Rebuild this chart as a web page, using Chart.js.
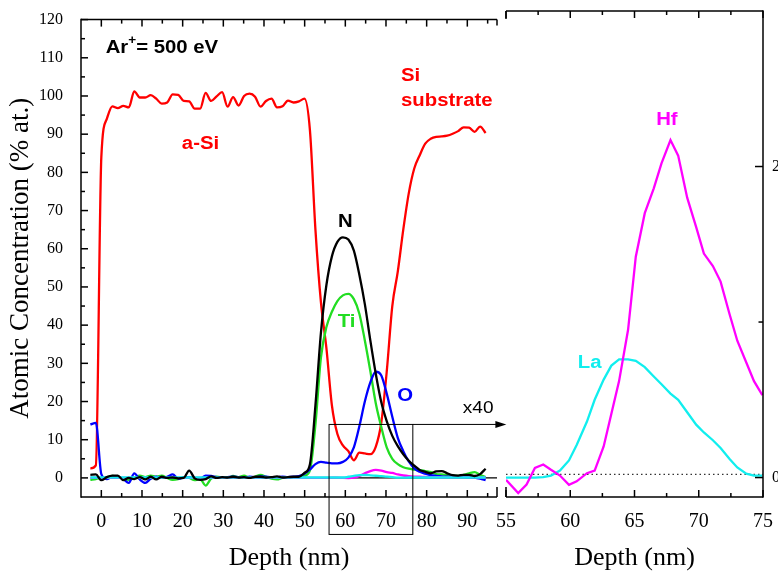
<!DOCTYPE html>
<html>
<head>
<meta charset="utf-8">
<script src="https://cdn.jsdelivr.net/npm/chart.js@4.4.1/dist/chart.umd.min.js"></script>
<style>
html,body{margin:0;padding:0;background:#fff;}
#wrap{position:relative;width:778px;height:576px;overflow:hidden;background:#fff;}
canvas{position:absolute;left:0;top:0;}
</style>
</head>
<body>
<div id="wrap">
<canvas id="c1" width="778" height="576"></canvas>
<canvas id="c2" width="778" height="576"></canvas>
</div>
<script>
// ---------- data ----------
const depth = [-2.7,-1.35,0,1.35,2.7,4.05,5.4,6.75,8.1,9.45,10.8,12.15,13.5,14.85,16.2,17.55,18.9,20.25,21.6,22.95,24.3,25.65,27.0,28.35,29.7,31.05,32.4,33.75,35.1,36.45,37.8,39.15,40.5,41.85,43.2,44.55,45.9,47.25,48.6,49.95,51.3,52.65,54.0,55.35,56.7,58.05,59.4,60.75,62.1,63.45,64.8,66.15,67.5,68.85,70.2,71.55,72.9,74.25,75.6,76.95,78.3,79.65,81.0,82.35,83.7,85.05,86.4,87.75,89.1,90.45,91.8,93.15,94.5];

const siConc = [2.5,3.3,84.0,94.0,97.3,96.8,97.4,97.0,101.2,99.6,
  99.6,100.2,99.3,98.0,98.3,100.4,100.3,98.7,98.6,96.7,
  96.7,100.8,98.7,99.9,101.0,97.2,99.7,97.5,100.0,100.6,
  99.8,97.2,98.7,99.3,97.0,97.3,98.8,98.3,98.6,99.3,
  91.0,65.0,46.0,34.0,19.0,11.5,8.5,7.0,4.6,6.6,
  6.4,6.2,8.2,14.5,28.0,45.0,54.0,65.0,74.5,81.0,
  84.5,87.5,88.8,89.3,89.4,89.6,90.1,90.8,91.8,91.7,
  90.6,92.0,90.3];

const nConc = [0.8,0.9,-0.6,0.2,0.6,0.6,-0.6,0.0,-0.3,0.2,
  -0.4,0.3,-0.4,0.3,0.0,0.1,-0.1,0.0,1.9,-0.1,
  -0.5,-0.3,0.4,0.0,0.2,0.1,0.3,0.1,0.2,0.0,
  0.3,0.3,0.1,0.2,0.4,0.1,0.2,0.3,0.3,1.3,
  3.6,19.0,38.0,50.5,58.0,61.8,63.0,62.4,59.5,53.2,
  45.5,36.0,27.2,19.8,14.8,11.0,8.3,6.2,4.5,3.2,
  2.1,1.6,1.2,1.7,1.8,1.2,0.7,0.6,0.8,0.8,
  0.5,1.0,2.4];

const tiConc = [-0.5,-0.3,0.0,0.2,0.5,0.3,-0.2,-0.5,0.0,0.6,
  0.2,0.6,0.3,0.6,0.0,-0.5,-0.3,0.2,0.0,-0.6,
  -0.3,-2.0,-0.2,0.3,0.1,0.0,0.5,0.2,0.6,0.0,
  0.3,0.8,0.3,-0.2,-0.4,0.0,0.1,0.0,0.1,0.6,
  2.0,14.0,31.5,39.5,43.5,46.3,47.8,48.2,46.8,43.0,
  36.0,28.0,19.5,13.3,7.9,5.0,3.6,2.8,2.4,2.2,
  2.0,1.8,1.5,1.0,0.9,0.8,0.6,0.5,0.8,1.2,
  1.5,0.8,0.2];

const oConc = [14.0,14.4,1.0,-0.3,0.3,0.2,-0.3,-1.3,1.2,-0.4,
  -1.3,-0.2,0.3,0.0,0.3,0.9,-0.2,0.1,0.2,0.0,
  -0.2,0.6,0.5,0.2,0.1,0.2,0.3,0.2,0.1,0.3,
  0.2,0.4,0.3,0.2,0.2,0.3,0.2,0.3,0.5,1.1,
  2.2,3.6,4.2,4.0,3.8,3.8,4.2,5.3,8.0,13.5,
  20.0,25.0,27.8,26.8,22.0,16.0,10.5,7.0,4.3,2.5,
  1.6,1.1,0.7,0.5,0.4,0.3,0.3,0.3,0.3,0.2,
  0.1,-0.2,-0.6];

const hfConc = [0,0,0,0,0,0,0,0,0,0,
  0,0,0,0,0,0,0,0,0,0,
  0,0,0,0,0,0,0,0,0,0,
  0,0,0,0,0,0,0,0,0,0,
  0,0,0,0,0.05,0.06,0.0,-0.03,0.05,0.5,
  1.2,1.8,2.1,1.9,1.5,1.3,0.9,0.63,0.45,0.35,
  0.3,0.25,0.2,0.2,0.15,0.15,0.15,0.15,0.15,0.15,
  0.15,0.15,0.15];

const laConc = [0.1,0.1,0.1,0.1,0.1,0.1,0.1,0.1,0.1,0.1,
  0.1,0.1,0.1,0.1,0.1,0.1,0.1,0.1,0.1,0.1,
  0.1,0.1,0.1,0.1,0.1,0.1,0.1,0.1,0.1,0.1,
  0.1,0.1,0.1,0.1,0.1,0.1,0.1,0.1,0.1,0.1,
  0.1,0.1,0.1,0.1,0.1,0.1,0.1,0.3,0.55,0.74,
  0.76,0.68,0.56,0.45,0.31,0.2,0.08,0.05,0.1,0.1,
  0.1,0.1,0.1,0.1,0.1,0.1,0.1,0.1,0.1,0.1,
  0.1,0.1,0.1];

// magnified (x40) region 55-75 nm
const zoomDepth = [55.0,55.95,56.6,57.25,57.9,58.5,59.2,59.9,60.5,61.3,61.9,62.6,63.2,63.8,64.5,65.1,65.8,66.5,67.1,67.8,68.4,69.1,69.8,70.4,71.1,71.7,72.4,73.0,73.7,74.3,74.95];
const hfZoom = [-0.015,-0.10,-0.045,0.062,0.084,0.05,0.013,-0.047,-0.024,0.028,0.045,0.20,0.41,0.62,0.95,1.42,1.70,1.86,2.02,2.17,2.07,1.80,1.61,1.44,1.36,1.26,1.05,0.88,0.74,0.62,0.53];
const laZoom = [0.0,0.0,0.0,0.0,0.003,0.012,0.045,0.11,0.21,0.36,0.50,0.63,0.72,0.76,0.76,0.75,0.71,0.65,0.60,0.54,0.50,0.42,0.34,0.29,0.24,0.19,0.12,0.065,0.025,0.013,0.013];

// tick values
const leftXMajor = [0,10,20,30,40,50,60,70,80,90];
const leftXMinor = [5,15,25,35,45,55,65,75,85,95];
const leftYMajor = [0,10,20,30,40,50,60,70,80,90,100,110,120];
const leftYMinor = [5,15,25,35,45,55,65,75,85,95,105,115];
const rightXMajor = [55,60,65,70,75];
const rightXMinor = [57.5,62.5,67.5,72.5];
const rightYMajor = [0,2];
const rightYMinor = [1];

// ---------- helpers ----------
const pts = (xs, ys) => xs.map((x, i) => ({x: x, y: ys[i]}));
const SANS = '"Liberation Sans", Arial, sans-serif';
const SERIF = '"Liberation Serif", "Times New Roman", serif';

function txt(ctx, s, x, y, color, font, align, sx) {
  ctx.save();
  ctx.font = font;
  ctx.fillStyle = color;
  ctx.textBaseline = 'alphabetic';
  ctx.textAlign = 'left';
  const w = ctx.measureText(s).width * sx;
  const x0 = align === 'center' ? x - w / 2 : x;
  ctx.translate(x0, y);
  ctx.scale(sx, 1);
  ctx.fillText(s, 0, 0);
  ctx.restore();
  return w;
}
function line(ctx, x1, y1, x2, y2) {
  ctx.beginPath(); ctx.moveTo(x1, y1); ctx.lineTo(x2, y2); ctx.stroke();
}
function xTicks(ctx, sc, a, vals, len) {
  vals.forEach(v => {
    const p = sc.getPixelForValue(v);
    line(ctx, p, a.bottom, p, a.bottom - len);
    line(ctx, p, a.top, p, a.top + len);
  });
}

const leftDecor = {
  id: 'leftDecor',
  beforeDatasetsDraw(chart) {
    const {ctx, chartArea: a, scales: {x, y}} = chart;
    ctx.save();
    ctx.strokeStyle = '#000'; ctx.lineWidth = 1.2;
    line(ctx, x.getPixelForValue(56.0), y.getPixelForValue(0), a.right, y.getPixelForValue(0));
    ctx.restore();
  },
  afterDraw(chart) {
    const {ctx, chartArea: a, scales: {x, y}} = chart;
    ctx.save();
    ctx.strokeStyle = '#000'; ctx.lineWidth = 1.5; ctx.lineCap = 'butt';
    // frame (broken on right side)
    line(ctx, a.left, a.top - 0.75, a.left, a.bottom + 0.75);
    line(ctx, a.left, a.top, a.right, a.top);
    line(ctx, a.left, a.bottom, a.right, a.bottom);
    line(ctx, a.right, a.top, a.right, a.top + 6);
    line(ctx, a.right, a.bottom, a.right, a.bottom - 10);
    // ticks
    xTicks(ctx, x, a, leftXMajor, 7);
    xTicks(ctx, x, a, leftXMinor, 4);
    leftYMajor.forEach(v => { const p = y.getPixelForValue(v); line(ctx, a.left, p, a.left + 7, p); });
    leftYMinor.forEach(v => { const p = y.getPixelForValue(v); line(ctx, a.left, p, a.left + 4, p); });
    // zoom box and arrow
    ctx.lineWidth = 1;
    const bx1 = x.getPixelForValue(56.0), bx2 = x.getPixelForValue(76.6);
    const by1 = y.getPixelForValue(14.0), by2 = y.getPixelForValue(-14.8);
    ctx.strokeRect(bx1, by1, bx2 - bx1, by2 - by1);
    const tip = x.getPixelForValue(99.6);
    line(ctx, bx2, by1, tip - 8, by1);
    ctx.fillStyle = '#000';
    ctx.beginPath(); ctx.moveTo(tip, by1); ctx.lineTo(tip - 11, by1 - 3.5); ctx.lineTo(tip - 11, by1 + 3.5); ctx.closePath(); ctx.fill();
    // labels
    const B = 'bold 18px ' + SANS, SX = 1.13;
    let px = x.getPixelForValue(1.06), py = y.getPixelForValue(111.15);
    let w = txt(ctx, 'Ar', px, py, '#000', B, 'left', SX);
    let w2 = txt(ctx, '+', px + w, py - 9, '#000', 'bold 12px ' + SANS, 'left', SX);
    txt(ctx, '= 500 eV', px + w + w2, py, '#000', B, 'left', SX);
    txt(ctx, 'a-Si', x.getPixelForValue(19.8), y.getPixelForValue(86.0), '#ff0000', B, 'left', SX);
    txt(ctx, 'Si', x.getPixelForValue(73.7), y.getPixelForValue(104.0), '#ff0000', B, 'left', SX);
    txt(ctx, 'substrate', x.getPixelForValue(73.7), y.getPixelForValue(97.3), '#ff0000', B, 'left', SX);
    txt(ctx, 'N', x.getPixelForValue(60.0), y.getPixelForValue(65.8), '#000', B, 'center', SX);
    txt(ctx, 'Ti', x.getPixelForValue(60.3), y.getPixelForValue(39.6), '#22dd22', B, 'center', SX);
    txt(ctx, 'O', x.getPixelForValue(74.7), y.getPixelForValue(20.1), '#0000ff', B, 'center', SX);
    txt(ctx, 'x40', x.getPixelForValue(88.9), y.getPixelForValue(16.96), '#000', '17px ' + SANS, 'left', 1.12);
    ctx.restore();
  }
};

const rightDecor = {
  id: 'rightDecor',
  beforeDatasetsDraw(chart) {
    const {ctx, chartArea: a, scales: {x, y}} = chart;
    ctx.save();
    ctx.strokeStyle = '#333'; ctx.lineWidth = 1.2; ctx.setLineDash([1.5, 3]);
    const p = y.getPixelForValue(0.02);
    line(ctx, a.left, p, a.right, p);
    ctx.restore();
  },
  afterDraw(chart) {
    const {ctx, chartArea: a, scales: {x, y}} = chart;
    ctx.save();
    ctx.strokeStyle = '#000'; ctx.lineWidth = 1.5;
    line(ctx, a.right, a.top - 0.75, a.right, a.bottom + 0.75);
    line(ctx, a.left, a.top, a.right, a.top);
    line(ctx, a.left, a.bottom, a.right, a.bottom);
    line(ctx, a.left, a.top, a.left, a.top + 8);
    line(ctx, a.left, a.bottom, a.left, a.bottom - 10);
    xTicks(ctx, x, a, rightXMajor, 7);
    xTicks(ctx, x, a, rightXMinor, 4);
    ctx.fillStyle = '#000';
    ctx.font = '16px ' + SERIF;
    ctx.textAlign = 'left'; ctx.textBaseline = 'middle';
    rightYMajor.forEach(v => {
      const p = y.getPixelForValue(v);
      line(ctx, a.right, p, a.right - 8, p);
      ctx.fillText(String(v), a.right + 9, p);
    });
    rightYMinor.forEach(v => { const p = y.getPixelForValue(v); line(ctx, a.right, p, a.right - 4.5, p); });
    const B = 'bold 18px ' + SANS, SX = 1.13;
    txt(ctx, 'Hf', x.getPixelForValue(67.52), y.getPixelForValue(2.267), '#ff00ff', B, 'center', SX);
    txt(ctx, 'La', x.getPixelForValue(61.51), y.getPixelForValue(0.702), '#11eeee', B, 'center', SX);
    ctx.restore();
  }
};

function ds(label, data, color, extra) {
  return Object.assign({label: label, data: data, borderColor: color, backgroundColor: color,
    borderWidth: 2.3, pointRadius: 0, fill: false}, extra || {});
}

const common = {
  responsive: false, animation: false, devicePixelRatio: 1,
  plugins: {legend: {display: false}, tooltip: {enabled: false}, title: {display: false}},
  events: []
};

new Chart(document.getElementById('c1'), {
  type: 'line',
  data: {datasets: [
    ds('N', pts(depth, nConc), '#000000', {cubicInterpolationMode: 'monotone'}),
    ds('La', pts(depth, laConc), '#11eeee', {cubicInterpolationMode: 'monotone'}),
    ds('Hf', pts(depth, hfConc), '#ff00ff', {cubicInterpolationMode: 'monotone'}),
    ds('O', pts(depth, oConc), '#0000ff', {cubicInterpolationMode: 'monotone'}),
    ds('Ti', pts(depth, tiConc), '#22dd22', {cubicInterpolationMode: 'monotone'}),
    ds('Si', pts(depth, siConc), '#ff0000', {cubicInterpolationMode: 'monotone'})
  ]},
  options: Object.assign({}, common, {
    layout: {padding: {left: 0, right: 281, top: 11, bottom: 0}},
    scales: {
      x: {type: 'linear', min: -5, max: 97.3,
        grid: {display: false}, border: {display: false},
        afterBuildTicks: s => { s.ticks = leftXMajor.map(v => ({value: v})); },
        afterFit: s => { s.height = 79; },
        ticks: {autoSkip: false, maxRotation: 0, minRotation: 0, padding: 5, color: '#000',
          font: {family: SERIF, size: 20}},
        title: {display: true, text: 'Depth (nm)', color: '#000',
          font: {family: SERIF, size: 26}, padding: {top: 0, bottom: 2}}
      },
      y: {type: 'linear', min: -5, max: 120,
        grid: {display: false}, border: {display: false},
        afterBuildTicks: s => { s.ticks = leftYMajor.map(v => ({value: v})); },
        afterFit: s => { s.width = 81; },
        ticks: {autoSkip: false, padding: 10, color: '#000', font: {family: SERIF, size: 16}},
        title: {display: true, text: 'Atomic Concentration (% at.)', color: '#000',
          font: {family: SERIF, size: 27}, padding: {top: 5, bottom: 0}}
      }
    }
  }),
  plugins: [leftDecor]
});

new Chart(document.getElementById('c2'), {
  type: 'line',
  data: {datasets: [
    ds('Hf x40', pts(zoomDepth, hfZoom), '#ff00ff', {tension: 0}),
    ds('La x40', pts(zoomDepth, laZoom), '#11eeee', {tension: 0})
  ]},
  options: Object.assign({}, common, {
    layout: {padding: {left: 506, right: 0, top: 11, bottom: 0}},
    scales: {
      x: {type: 'linear', min: 55, max: 75,
        grid: {display: false}, border: {display: false},
        afterBuildTicks: s => { s.ticks = rightXMajor.map(v => ({value: v})); },
        afterFit: s => { s.height = 79; },
        ticks: {autoSkip: false, maxRotation: 0, minRotation: 0, padding: 5, color: '#000',
          font: {family: SERIF, size: 20}},
        title: {display: true, text: 'Depth (nm)', color: '#000',
          font: {family: SERIF, size: 26}, padding: {top: 0, bottom: 2}}
      },
      y: {type: 'linear', position: 'right', min: -0.125, max: 3.0,
        grid: {display: false}, border: {display: false},
        afterBuildTicks: s => { s.ticks = rightYMajor.map(v => ({value: v})); },
        afterFit: s => { s.width = 14; },
        ticks: {display: false}
      }
    }
  }),
  plugins: [rightDecor]
});
</script>
</body>
</html>
